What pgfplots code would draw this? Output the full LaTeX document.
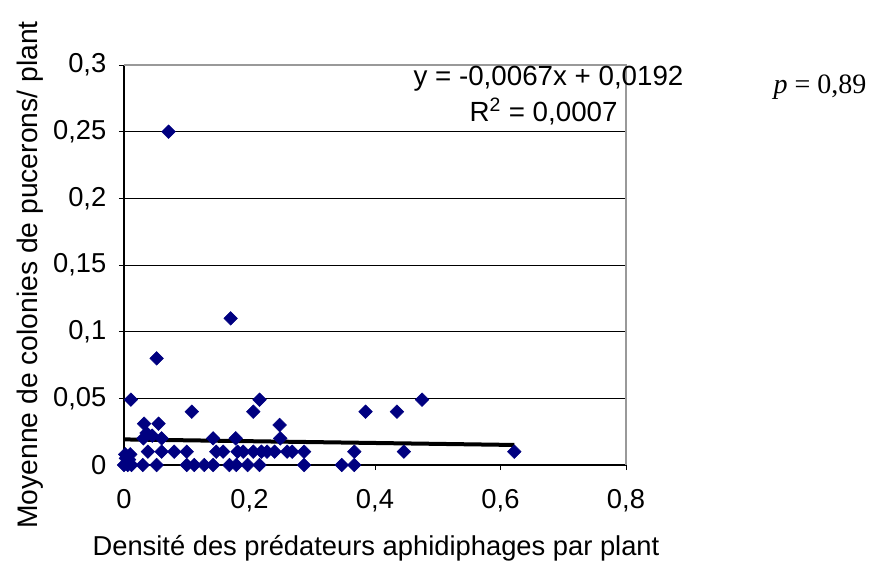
\documentclass[border=0pt]{standalone}
\usepackage{pgfplots}
\pgfplotsset{compat=1.18}
\usepackage{fontspec}
\setmainfont{Liberation Sans}
\newfontfamily\timesfont{Liberation Serif}
\definecolor{navy}{RGB}{0,0,128}
\begin{document}
\begin{tikzpicture}
\path[use as bounding box] (-93pt,-78pt) rectangle (564.75pt,348.75pt);
\begin{axis}[
  at={(0,0)}, anchor=south west,
  scale only axis, width=376.5pt, height=300pt,
  xmin=0, xmax=0.8, ymin=0, ymax=0.3,
  xtick={0,0.2,0.4,0.6,0.8},
  ytick={0,0.05,0.1,0.15,0.2,0.25,0.3},
  scaled ticks=false,
  /pgf/number format/fixed,
  /pgf/number format/precision=2,
  /pgf/number format/use comma,
  /pgf/number format/assume math mode=true,
  tick label style={font=\fontsize{20.5}{24}\selectfont},
  xticklabel style={yshift=-11pt},
  yticklabel style={xshift=-6pt},
  xlabel style={font=\fontsize{20.5}{24}\selectfont},
  ylabel style={font=\fontsize{21.2}{24}\selectfont},
  tick align=outside, tick pos=left,
  major tick length=3.75pt,
  tick style={black, line width=0.6pt},
  axis x line*=bottom, axis y line*=left,
  axis line style={black, line width=0.8pt, -},
  ymajorgrids, grid style={black, line width=0.6pt},
  xlabel={Densité des prédateurs aphidiphages par plant},
  ylabel={Moyenne de colonies de pucerons/ plant},
  xlabel style={at={(axis description cs:0.502,-0.2075)}, anchor=center},
  ylabel style={at={(axis description cs:-0.187,0.475)}, anchor=center},
  clip=false,
]
\draw[gray!80, line width=1pt] (rel axis cs:0,1) -- (rel axis cs:1,1) -- (rel axis cs:1,0);
\addplot[only marks, mark=square*, mark size=3.6pt, mark options={rotate=45, fill=navy, draw=navy}] coordinates {
(0.071,0.25) (0.17,0.11) (0.052,0.08)
(0.011,0.049) (0.216,0.049) (0.475,0.049)
(0.108,0.04) (0.206,0.04) (0.385,0.04) (0.435,0.04)
(0.032,0.031) (0.055,0.031) (0.248,0.03)
(0.031,0.02) (0.036,0.024) (0.045,0.022) (0.06,0.02) (0.142,0.02) (0.178,0.02) (0.249,0.02)
(0.01,0.008) (0.038,0.01) (0.06,0.01) (0.08,0.01) (0.1,0.01) (0.147,0.01) (0.158,0.01)
(0.181,0.01) (0.19,0.01) (0.206,0.01) (0.219,0.01) (0.228,0.01) (0.24,0.01) (0.26,0.01)
(0.268,0.01) (0.287,0.01) (0.367,0.01) (0.446,0.01) (0.622,0.01)
(0.0,0.0) (0.003,0.005) (0.006,0.0) (0.008,0.004) (0.012,0.0) (0.002,0.008)
(0.03,0) (0.052,0) (0.1,0) (0.112,0) (0.128,0) (0.142,0) (0.168,0) (0.179,0)
(0.197,0) (0.216,0) (0.287,0) (0.347,0) (0.367,0)
};
\addplot[black, line width=3pt, mark=none] coordinates {(0,0.0192) (0.622,0.01503)};
\node[anchor=east, inner sep=0pt, font=\fontsize{20.8}{24}\selectfont] at (axis cs:0.892,0.2896) {y = -0,0067x + 0,0192};
\node[anchor=east, inner sep=0pt, font=\fontsize{20.8}{24}\selectfont] at (axis cs:0.787,0.2648) {R\textsuperscript{2} = 0,0007};
\node[anchor=west, inner sep=0pt, font=\timesfont\fontsize{21}{25}\selectfont] at (axis cs:1.035,0.2836) {\textit{p} = 0,89};
\end{axis}
\end{tikzpicture}
\end{document}
